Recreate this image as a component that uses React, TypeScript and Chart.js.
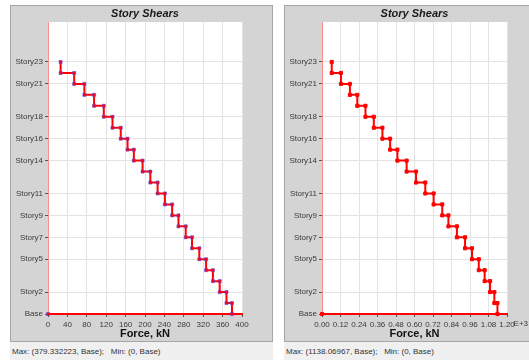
import React, { useEffect, useRef } from "react";
import { Chart, registerables } from "chart.js";

Chart.register(...registerables);

// Story names indexed by level (0 = Base)
const storyLabels = [
  "Base", "Story1", "Story2", "Story3", "Story4", "Story5", "Story6", "Story7", "Story8",
  "Story9", "Story10", "Story11", "Story12", "Story13", "Story14", "Story15", "Story16",
  "Story17", "Story18", "Story19", "Story20", "Story21", "Story22", "Story23",
];
// Stories that get a tick label on the vertical axis
const tickStories = ["Base", "Story2", "Story5", "Story7", "Story9", "Story11", "Story14", "Story16", "Story18", "Story21", "Story23"];

// Story shear (kN) for Story1 .. Story23
const shearLeft = [
  379.33, 368, 354, 340, 326, 312, 297, 284, 269, 256, 241, 226,
  211, 195, 177, 164, 150, 133, 115, 95, 75, 54, 26,
];
const shearRight = [
  1138.07, 1118, 1090, 1055, 1017, 973, 928, 875, 820, 780, 724, 670,
  610, 549, 489, 442, 392, 336, 282, 229, 181, 123, 63,
];

const leftMaxText = "Max: (379.332223, Base);   Min: (0, Base)";
const rightMaxText = "Max: (1138.06967, Base);   Min: (0, Base)";

const FONT = '"Liberation Sans", Arial, sans-serif';
const Y_MAX = 26.65;

function buildSteps(shear: number[]) {
  const pts: { x: number; y: number }[] = [];
  for (let lvl = shear.length; lvl >= 1; lvl--) {
    const v = shear[lvl - 1];
    pts.push({ x: v, y: lvl });
    pts.push({ x: v, y: lvl - 1 });
  }
  pts.push({ x: 0, y: 0 });
  return pts;
}

type PanelProps = {
  left: number;
  width: number;
  shear: number[];
  xMax: number;
  xStep: number;
  exponent: boolean;
  footer: string;
  padRight: number;
  markerBorder: string;
};

function Panel(props: PanelProps) {
  const ref = useRef<HTMLCanvasElement | null>(null);
  useEffect(() => {
    const canvas = ref.current;
    if (!canvas) return;
    const exponent = props.exponent;
    const visibleRight = 529 - props.left - 1;
    const deco = {
      id: "deco",
      beforeDraw(chart: any) {
        const { ctx, chartArea } = chart;
        ctx.save();
        ctx.fillStyle = "#ffffff";
        ctx.fillRect(chartArea.left, chartArea.top, chartArea.right - chartArea.left, chartArea.bottom - chartArea.top);
        ctx.restore();
      },
      afterDraw(chart: any) {
        const { ctx, chartArea } = chart;
        ctx.save();
        ctx.fillStyle = "#1a1a1a";
        ctx.font = "italic bold 11px " + FONT;
        ctx.textAlign = "center";
        ctx.textBaseline = "middle";
        ctx.fillText("Story Shears", (chartArea.left + chartArea.right) / 2, 9);
        if (exponent) {
          const xs = chart.scales.x;
          const px = xs.getPixelForValue(props.xMax);
          ctx.font = "8px " + FONT;
          const w = ctx.measureText((props.xMax / 1000).toFixed(2)).width;
          const ew = ctx.measureText("E+3").width;
          ctx.textAlign = "left";
          ctx.textBaseline = "top";
          ctx.fillStyle = "#3a3a3a";
          const ex = Math.min(px + w / 2 + 2, visibleRight - ew);
          ctx.fillText("E+3", ex, xs.top + 3 + 3);
        }
        ctx.restore();
      },
    };
    const chart = new Chart(canvas, {
      type: "scatter",
      data: {
        datasets: [
          {
            data: buildSteps(props.shear),
            showLine: true,
            borderColor: "#ff0000",
            borderWidth: 2,
            pointStyle: "rect",
            pointRadius: 2.2,
            pointBackgroundColor: "#ff0000",
            pointBorderColor: props.markerBorder,
            pointBorderWidth: 1,
            clip: false,
            tension: 0,
          } as any,
        ],
      },
      options: {
        animation: false,
        responsive: false,
        maintainAspectRatio: false,
        layout: { padding: { top: 17, right: props.padRight, bottom: 0, left: 0 } },
        plugins: { legend: { display: false }, tooltip: { enabled: false }, title: { display: false } },
        scales: {
          x: {
            type: "linear",
            min: 0,
            max: props.xMax,
            ticks: {
              stepSize: props.xStep,
              autoSkip: false,
              maxRotation: 0,
              padding: 3,
              color: "#3a3a3a",
              font: { size: 8, family: FONT },
              callback: (v: any) => (exponent ? (Number(v) / 1000).toFixed(2) : String(v)),
            },
            grid: { color: "#e3e3e3", tickLength: 3, tickColor: "#555555", lineWidth: 1 },
            border: { color: "#ff0000", width: 2 },
            title: {
              display: true,
              text: "Force, kN",
              color: "#111111",
              font: { size: 11, weight: "bold", family: FONT },
              padding: { top: 0, bottom: 1 },
            },
            afterFit: (s: any) => {
              s.height = 28;
            },
          },
          y: {
            type: "linear",
            min: 0,
            max: Y_MAX,
            afterBuildTicks: (s: any) => {
              s.ticks = tickStories.map((n) => ({ value: storyLabels.indexOf(n) }));
            },
            ticks: {
              autoSkip: false,
              padding: 2,
              color: "#3a3a3a",
              font: { size: 8, family: FONT },
              callback: (v: any) => storyLabels[Number(v)] ?? "",
            },
            grid: { color: "#e3e3e3", tickLength: 3, tickColor: "#555555", lineWidth: 1 },
            border: { color: "#ff8c8c", width: 1 },
            afterFit: (s: any) => {
              s.width = 38;
            },
          },
        },
      } as any,
      plugins: [deco],
    });
    return () => chart.destroy();
  }, []);

  return (
    <>
      <div
        style={{
          position: "absolute",
          left: props.left,
          top: 5,
          width: props.width,
          height: 337,
          background: "#d4d4d4",
          boxShadow: "inset 0 0 0 1px #a6a6a6",
        }}
      >
        <canvas
          ref={ref}
          width={props.width}
          height={337}
          style={{ position: "absolute", left: 0, top: 0, width: props.width, height: 337 }}
        />
      </div>
      <div
        style={{
          position: "absolute",
          left: props.left,
          top: 342,
          width: props.width,
          height: 18,
          background: "#f0f0f0",
          font: "8px " + FONT,
          color: "#333333",
          lineHeight: "20px",
          whiteSpace: "pre",
          paddingLeft: 2,
          boxSizing: "border-box",
        }}
      >
        {props.footer}
      </div>
    </>
  );
}

export default function App() {
  return (
    <div
      style={{
        position: "fixed",
        left: 0,
        top: 0,
        width: 529,
        height: 360,
        overflow: "hidden",
        background: "#ffffff",
      }}
    >
      <Panel
        left={10}
        width={263}
        shear={shearLeft}
        xMax={400}
        xStep={40}
        exponent={false}
        footer={leftMaxText}
        padRight={31}
        markerBorder="rgba(80,80,255,0.55)"
      />
      <Panel
        left={284}
        width={260}
        shear={shearRight}
        xMax={1200}
        xStep={120}
        exponent={true}
        footer={rightMaxText}
        padRight={37}
        markerBorder="#ff0000"
      />
    </div>
  );
}
